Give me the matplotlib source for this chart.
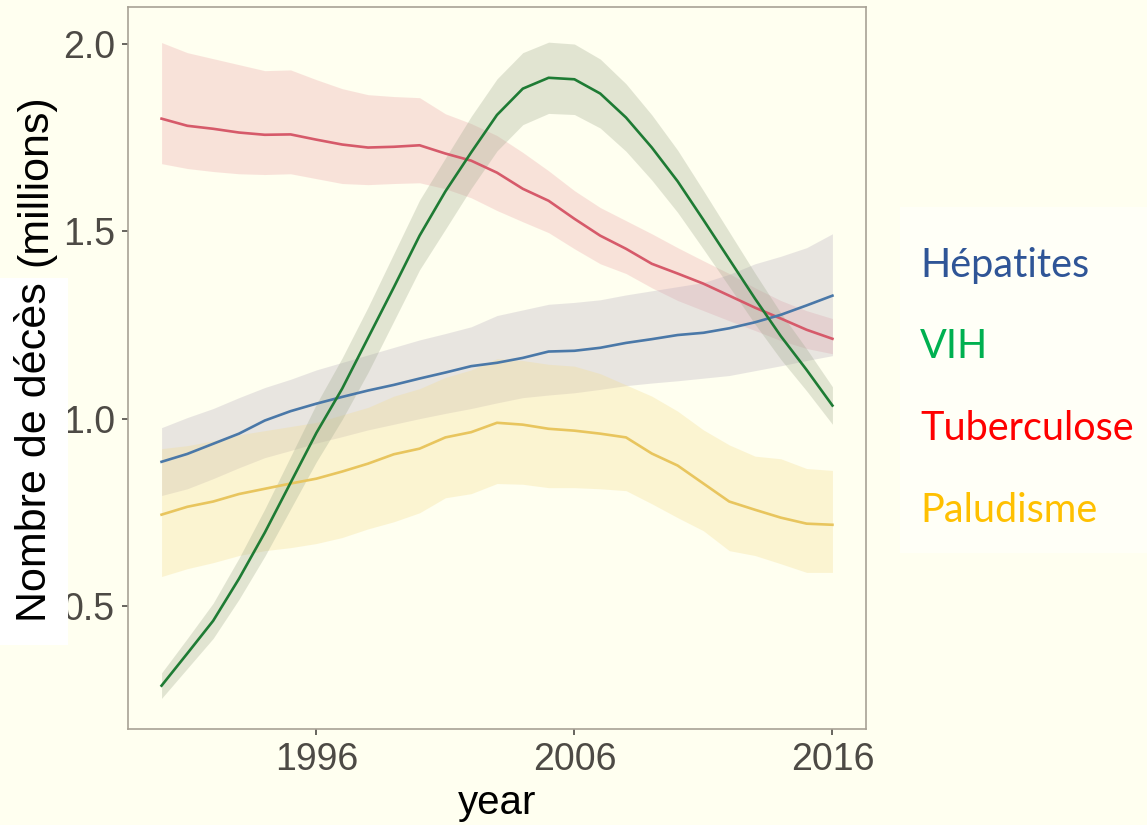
import matplotlib
matplotlib.use("Agg")
import matplotlib.pyplot as plt
from matplotlib.patches import Rectangle

# données (millions de décès)
years = list(range(1990, 2017))

hep_mean = [0.885, 0.906, 0.933, 0.960, 0.995, 1.020, 1.040, 1.058, 1.075, 1.090, 1.107, 1.123, 1.140, 1.149,
            1.162, 1.179, 1.181, 1.189, 1.202, 1.212, 1.223, 1.229, 1.241, 1.257, 1.277, 1.302, 1.328]
hep_low = [0.795, 0.813, 0.840, 0.869, 0.896, 0.915, 0.935, 0.952, 0.970, 0.985, 1.000, 1.014, 1.027, 1.042,
           1.056, 1.063, 1.069, 1.078, 1.088, 1.095, 1.101, 1.108, 1.115, 1.128, 1.141, 1.155, 1.168]
hep_up = [0.976, 1.003, 1.027, 1.056, 1.083, 1.105, 1.130, 1.150, 1.170, 1.190, 1.210, 1.227, 1.245, 1.275,
          1.290, 1.305, 1.310, 1.317, 1.330, 1.341, 1.352, 1.363, 1.385, 1.413, 1.433, 1.456, 1.493]

vih_mean = [0.288, 0.374, 0.461, 0.573, 0.696, 0.829, 0.962, 1.080, 1.215, 1.350, 1.488, 1.606, 1.710, 1.810,
            1.880, 1.909, 1.905, 1.867, 1.803, 1.723, 1.633, 1.530, 1.425, 1.320, 1.220, 1.130, 1.035]
vih_low = [0.254, 0.334, 0.414, 0.518, 0.633, 0.759, 0.885, 0.998, 1.123, 1.260, 1.397, 1.505, 1.614, 1.714,
           1.784, 1.814, 1.811, 1.775, 1.713, 1.636, 1.550, 1.452, 1.352, 1.252, 1.158, 1.074, 0.985]
vih_up = [0.322, 0.414, 0.508, 0.628, 0.759, 0.899, 1.039, 1.162, 1.297, 1.440, 1.583, 1.695, 1.806, 1.906,
          1.976, 2.004, 1.999, 1.959, 1.893, 1.810, 1.716, 1.608, 1.498, 1.388, 1.282, 1.186, 1.085]

tb_mean = [1.800, 1.781, 1.773, 1.763, 1.757, 1.758, 1.744, 1.731, 1.723, 1.725, 1.729, 1.707, 1.688, 1.656,
           1.613, 1.581, 1.533, 1.488, 1.453, 1.413, 1.387, 1.360, 1.328, 1.296, 1.267, 1.237, 1.213]
tb_low = [1.680, 1.667, 1.659, 1.653, 1.651, 1.653, 1.640, 1.627, 1.624, 1.627, 1.629, 1.613, 1.589, 1.555,
          1.525, 1.496, 1.453, 1.413, 1.387, 1.349, 1.315, 1.288, 1.261, 1.235, 1.208, 1.187, 1.173]
tb_up = [2.003, 1.976, 1.960, 1.944, 1.928, 1.930, 1.904, 1.880, 1.864, 1.859, 1.856, 1.813, 1.787, 1.755,
         1.710, 1.661, 1.608, 1.563, 1.528, 1.493, 1.456, 1.421, 1.387, 1.349, 1.315, 1.288, 1.267]

pal_mean = [0.744, 0.765, 0.779, 0.799, 0.813, 0.827, 0.840, 0.859, 0.880, 0.905, 0.920, 0.950, 0.964, 0.989,
            0.984, 0.973, 0.968, 0.960, 0.950, 0.907, 0.875, 0.827, 0.779, 0.757, 0.736, 0.720, 0.717]
pal_low = [0.579, 0.600, 0.616, 0.635, 0.648, 0.656, 0.667, 0.683, 0.706, 0.725, 0.749, 0.789, 0.800, 0.827,
           0.825, 0.816, 0.816, 0.813, 0.808, 0.773, 0.736, 0.701, 0.648, 0.635, 0.613, 0.590, 0.590]
pal_up = [0.920, 0.928, 0.941, 0.957, 0.968, 0.979, 0.990, 1.010, 1.030, 1.060, 1.080, 1.110, 1.130, 1.160,
          1.155, 1.145, 1.140, 1.120, 1.090, 1.060, 1.020, 0.970, 0.930, 0.900, 0.893, 0.867, 0.862]

legend_labels = ["Hépatites", "VIH", "Tuberculose", "Paludisme"]
legend_colors = ["#2F5597", "#00B050", "#FF0000", "#FFC000"]

BG = "#FFFFF0"
TXT = "#4D4A45"

fig = plt.figure(figsize=(11.47, 8.25), dpi=100, facecolor=BG)
ax = fig.add_axes([0.1116, 0.1164, 0.6434, 0.875], facecolor=BG)

# rubans (intervalles)
ax.fill_between(years, tb_low, tb_up, color="#EBA2A7", alpha=0.3, lw=0)
ax.fill_between(years, hep_low, hep_up, color="#B6ACBE", alpha=0.3, lw=0)
ax.fill_between(years, pal_low, pal_up, color="#F4DC8C", alpha=0.3, lw=0)
ax.fill_between(years, vih_low, vih_up, color="#9EA88C", alpha=0.3, lw=0)

ax.plot(years, tb_mean, color="#D65A6A", lw=1.9)
ax.plot(years, hep_mean, color="#4A78A8", lw=1.9)
ax.plot(years, pal_mean, color="#E8C55E", lw=1.9)
ax.plot(years, vih_mean, color="#1E7B34", lw=1.9)

ax.set_xlim(1988.7, 2017.3)
ax.set_ylim(0.1725, 2.0975)
ax.set_xticks([1996, 2006, 2016])
ax.set_yticks([0.5, 1.0, 1.5, 2.0])
ax.set_yticklabels(["0.5", "1.0", "1.5", "2.0"])

for s in ax.spines.values():
    s.set_color("#A8A295")
    s.set_linewidth(1.2)
ax.tick_params(axis="both", length=4.5, width=1.2, color="#4D4A45", labelcolor=TXT,
               labelsize=27, pad=5)
for lab in ax.get_xticklabels() + ax.get_yticklabels():
    lab.set_family("Liberation Sans")

ax.set_xlabel("year", fontsize=29, family="Liberation Sans", color="black", labelpad=4)

# étiquette de l'axe y (deux blocs, le premier sur fond blanc)
fig.add_artist(Rectangle((0, 1 - 645 / 825), 68 / 1147, (645 - 278) / 825,
                         transform=fig.transFigure, facecolor="white", edgecolor="none", zorder=5))
fig.text(35 / 1147, 1 - 452 / 825, "Nombre de décès", rotation=90, ha="center", va="center",
         fontsize=31, family="Liberation Sans", color="black", zorder=6)
fig.text(35 / 1147, 1 - 180 / 825, "(millions)", rotation=90, ha="center", va="center",
         fontsize=31, family="Liberation Sans", color="black", zorder=6)

# légende manuelle
fig.add_artist(Rectangle((900 / 1147, 1 - 553 / 825), 247 / 1147, (553 - 207) / 825,
                         transform=fig.transFigure, facecolor="#FFFFF7", edgecolor="none", zorder=5))
legend_y = [265, 346, 428, 510]
for lab, col, yy in zip(legend_labels, legend_colors, legend_y):
    fig.text(920 / 1147, 1 - yy / 825, lab, ha="left", va="center", fontsize=28.5,
             family="Lato", color=col, zorder=6)

fig.savefig("out.png", dpi=100, facecolor=BG)
